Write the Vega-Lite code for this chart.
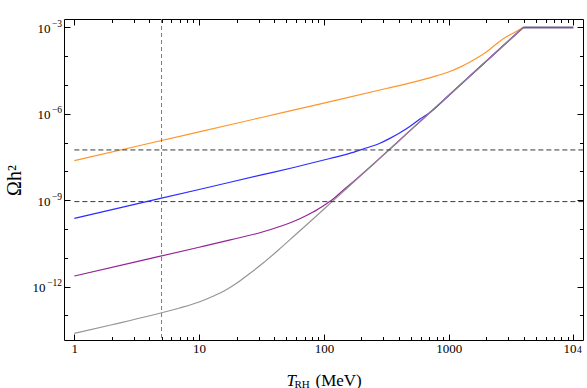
{
  "$schema": "https://vega.github.io/schema/vega-lite/v6.json",
  "autosize": "none",
  "width": 519,
  "height": 321,
  "padding": {"left": 64, "top": 19, "right": 4, "bottom": 48},
  "background": "white",
  "config": {
    "view": {"stroke": "black", "strokeWidth": 1},
    "axis": {
      "domain": false, "grid": false, "tickColor": "black", "tickWidth": 1,
      "labelFont": "Liberation Serif", "labelFontSize": 13, "labelColor": "black",
      "titleFont": "Liberation Serif", "titleColor": "black", "titleFontWeight": "normal"
    }
  },
  "datasets": {
    "curves": [
      {"s": "orange", "x": 1, "y": 2.371e-8},
      {"s": "orange", "x": 3.162, "y": 7.499e-8},
      {"s": "orange", "x": 10, "y": 2.371e-7},
      {"s": "orange", "x": 31.62, "y": 7.499e-7},
      {"s": "orange", "x": 100, "y": 2.371e-6},
      {"s": "orange", "x": 316.2, "y": 7.586e-6},
      {"s": "orange", "x": 562.3, "y": 1.380e-5},
      {"s": "orange", "x": 794.3, "y": 2.089e-5},
      {"s": "orange", "x": 1023, "y": 2.951e-5},
      {"s": "orange", "x": 1259, "y": 4.365e-5},
      {"s": "orange", "x": 1483, "y": 6.310e-5},
      {"s": "orange", "x": 1778, "y": 1.0e-4},
      {"s": "orange", "x": 2018, "y": 1.445e-4},
      {"s": "orange", "x": 2371, "y": 2.512e-4},
      {"s": "orange", "x": 2742, "y": 4.074e-4},
      {"s": "orange", "x": 3311, "y": 6.457e-4},
      {"s": "orange", "x": 3963, "y": 1.0e-3},
      {"s": "blue", "x": 1, "y": 2.371e-10},
      {"s": "blue", "x": 3.162, "y": 7.499e-10},
      {"s": "blue", "x": 10, "y": 2.371e-9},
      {"s": "blue", "x": 31.62, "y": 7.586e-9},
      {"s": "blue", "x": 56.23, "y": 1.349e-8},
      {"s": "blue", "x": 111.7, "y": 2.818e-8},
      {"s": "blue", "x": 158.5, "y": 4.169e-8},
      {"s": "blue", "x": 206.5, "y": 6.026e-8},
      {"s": "blue", "x": 281.2, "y": 9.550e-8},
      {"s": "blue", "x": 338.1, "y": 1.413e-7},
      {"s": "blue", "x": 398.1, "y": 2.089e-7},
      {"s": "blue", "x": 488.7, "y": 3.631e-7},
      {"s": "blue", "x": 588.8, "y": 6.607e-7},
      {"s": "blue", "x": 707.9, "y": 1.122e-6},
      {"s": "blue", "x": 963.9, "y": 3.715e-6},
      {"s": "blue", "x": 1259, "y": 1.072e-5},
      {"s": "blue", "x": 1585, "y": 2.692e-5},
      {"s": "blue", "x": 1995, "y": 6.683e-5},
      {"s": "blue", "x": 2512, "y": 1.660e-4},
      {"s": "blue", "x": 3162, "y": 4.121e-4},
      {"s": "blue", "x": 3963, "y": 1.0e-3},
      {"s": "purple", "x": 1, "y": 2.344e-12},
      {"s": "purple", "x": 3.162, "y": 7.413e-12},
      {"s": "purple", "x": 10, "y": 2.344e-11},
      {"s": "purple", "x": 17.78, "y": 4.217e-11},
      {"s": "purple", "x": 31.62, "y": 7.762e-11},
      {"s": "purple", "x": 44.36, "y": 1.230e-10},
      {"s": "purple", "x": 64.12, "y": 2.291e-10},
      {"s": "purple", "x": 82.04, "y": 3.890e-10},
      {"s": "purple", "x": 100, "y": 6.607e-10},
      {"s": "purple", "x": 115.3, "y": 1.0e-9},
      {"s": "purple", "x": 141.3, "y": 2.138e-9},
      {"s": "purple", "x": 182.8, "y": 5.495e-9},
      {"s": "purple", "x": 251.2, "y": 1.862e-8},
      {"s": "purple", "x": 398.1, "y": 1.148e-7},
      {"s": "purple", "x": 631.0, "y": 7.079e-7},
      {"s": "purple", "x": 1000, "y": 4.365e-6},
      {"s": "purple", "x": 1585, "y": 2.692e-5},
      {"s": "purple", "x": 2512, "y": 1.660e-4},
      {"s": "purple", "x": 3963, "y": 1.0e-3},
      {"s": "gray", "x": 1, "y": 2.399e-14},
      {"s": "gray", "x": 2, "y": 4.786e-14},
      {"s": "gray", "x": 4.027, "y": 9.772e-14},
      {"s": "gray", "x": 7.0, "y": 1.820e-13},
      {"s": "gray", "x": 10, "y": 2.951e-13},
      {"s": "gray", "x": 12.94, "y": 4.677e-13},
      {"s": "gray", "x": 15.85, "y": 7.079e-13},
      {"s": "gray", "x": 19.95, "y": 1.318e-12},
      {"s": "gray", "x": 25.12, "y": 2.754e-12},
      {"s": "gray", "x": 32.58, "y": 6.607e-12},
      {"s": "gray", "x": 44.67, "y": 2.138e-11},
      {"s": "gray", "x": 60.39, "y": 6.918e-11},
      {"s": "gray", "x": 79.43, "y": 1.995e-10},
      {"s": "gray", "x": 115.3, "y": 8.610e-10},
      {"s": "gray", "x": 158.5, "y": 3.020e-9},
      {"s": "gray", "x": 251.2, "y": 1.862e-8},
      {"s": "gray", "x": 398.1, "y": 1.148e-7},
      {"s": "gray", "x": 631.0, "y": 7.079e-7},
      {"s": "gray", "x": 1000, "y": 4.365e-6},
      {"s": "gray", "x": 1585, "y": 2.692e-5},
      {"s": "gray", "x": 2512, "y": 1.660e-4},
      {"s": "gray", "x": 3963, "y": 1.0e-3}
    ],
    "plateau": [
      {"x": 3963, "y": 1.0e-3},
      {"x": 10000, "y": 1.0e-3}
    ],
    "hlines": [
      {"y": 5.6e-8, "x": 1, "x2": 12000},
      {"y": 9.0e-10, "x": 1, "x2": 12000}
    ],
    "vlines": [
      {"x": 5}
    ]
  },
  "resolve": {"axis": {"x": "independent", "y": "independent"}},
  "layer": [
    {
      "data": {"name": "curves"},
      "mark": {"type": "line", "strokeWidth": 1.2, "interpolate": "monotone", "clip": true, "opacity": 0.92},
      "encoding": {
        "x": {
          "field": "x", "type": "quantitative",
          "scale": {"type": "log", "domain": [0.826, 11940], "nice": false, "zero": false},
          "axis": {
            "orient": "bottom",
            "values": [1,2,3,4,5,6,7,8,9,10,20,30,40,50,60,70,80,90,100,200,300,400,500,600,700,800,900,1000,2000,3000,4000,5000,6000,7000,8000,9000,10000],
            "labelExpr": "datum.value==1?'1':datum.value==10?'10':datum.value==100?'100':datum.value==1000?'1000':datum.value==10000?'10':''",
            "tickSize": {"condition": {"test": "abs(log(datum.value)/LN10 - round(log(datum.value)/LN10)) < 0.001", "value": -6}, "value": -3.5},
            "labelOffset": {"condition": {"test": "datum.value==10000", "value": -4}, "value": 0},
            "labelPadding": 8,
            "labelFlush": false,
            "labelOverlap": false,
            "title": "T", "titleFontStyle": "italic", "titleFontSize": 17,
            "titleX": 222, "titleY": 45, "titleAlign": "left", "titleBaseline": "alphabetic", "titleAnchor": null
          }
        },
        "y": {
          "field": "y", "type": "quantitative",
          "scale": {"type": "log", "domain": [1.41e-14, 1.97e-3], "nice": false, "zero": false},
          "axis": {
            "orient": "left",
            "values": [1e-13,1e-12,1e-11,1e-10,1e-9,1e-8,1e-7,1e-6,1e-5,1e-4,1e-3],
            "labelExpr": "round(log(datum.value)/LN10) % 3 == 0 ? '10' : ''",
            "tickSize": {"condition": {"test": "round(log(datum.value)/LN10) % 3 == 0", "value": -6}, "value": -3.5},
            "labelPadding": {"condition": {"test": "round(log(datum.value)/LN10) == -12", "value": 25}, "value": 20},
            "labelOffset": 1,
            "labelFlush": false,
            "labelOverlap": false,
            "title": "Ωh²", "titleFontSize": 20, "titleAngle": 270,
            "titleX": -44, "titleY": 161, "titleAlign": "center", "titleBaseline": "alphabetic", "titleAnchor": null
          }
        },
        "color": {
          "field": "s", "type": "nominal", "legend": null,
          "scale": {"domain": ["orange", "blue", "purple", "gray"], "range": ["#ff8c1a", "#1a1aff", "#8a108a", "#8c8c8c"]}
        }
      }
    },
    {
      "data": {"name": "plateau"},
      "mark": {"type": "line", "strokeWidth": 2, "color": "#735a8a", "clip": true},
      "encoding": {
        "x": {"field": "x", "type": "quantitative", "axis": null},
        "y": {
          "field": "y", "type": "quantitative",
          "axis": {
            "orient": "left",
            "values": [1e-12, 1e-9, 1e-6, 1e-3],
            "ticks": false,
            "labelExpr": "round(log(datum.value)/LN10)==-3?'−3':round(log(datum.value)/LN10)==-6?'−6':round(log(datum.value)/LN10)==-9?'−9':'−12'",
            "labelFontSize": 9.5,
            "labelAlign": "right",
            "labelPadding": 2.5,
            "labelOffset": -4,
            "labelFlush": false,
            "labelOverlap": false,
            "title": null
          }
        }
      }
    },
    {
      "data": {"name": "hlines"},
      "mark": {"type": "rule", "strokeDash": [5, 3], "color": "#3a3a3a", "strokeWidth": 1, "clip": true},
      "encoding": {
        "x": {
          "field": "x", "type": "quantitative",
          "scale": {"type": "log", "domain": [0.826, 11940], "nice": false, "zero": false},
          "axis": {
            "orient": "top",
            "values": [1,2,3,4,5,6,7,8,9,10,20,30,40,50,60,70,80,90,100,200,300,400,500,600,700,800,900,1000,2000,3000,4000,5000,6000,7000,8000,9000,10000],
            "labelExpr": "datum.value==10000?'4':''",
            "labelFontSize": 9.5,
            "labelPadding": -324,
            "labelBaseline": "middle",
            "labelAlign": "left",
            "labelOffset": 3,
            "labelFlush": false,
            "labelOverlap": false,
            "tickSize": {"condition": {"test": "abs(log(datum.value)/LN10 - round(log(datum.value)/LN10)) < 0.001", "value": -6}, "value": -3.5},
            "title": "RH", "titleFontSize": 11,
            "titleX": 230, "titleY": 368, "titleAlign": "left", "titleBaseline": "alphabetic", "titleAnchor": null
          }
        },
        "x2": {"field": "x2"},
        "y": {
          "field": "y", "type": "quantitative",
          "scale": {"type": "log", "domain": [1.41e-14, 1.97e-3], "nice": false, "zero": false},
          "axis": {
            "orient": "right",
            "values": [1e-13,1e-12,1e-11,1e-10,1e-9,1e-8,1e-7,1e-6,1e-5,1e-4,1e-3],
            "labels": false,
            "tickSize": {"condition": {"test": "round(log(datum.value)/LN10) % 3 == 0", "value": -6}, "value": -3.5},
            "title": "(MeV)", "titleFontSize": 17, "titleAngle": 0,
            "titleX": -268, "titleY": 366, "titleAlign": "left", "titleBaseline": "alphabetic", "titleAnchor": null
          }
        }
      }
    },
    {
      "data": {"name": "vlines"},
      "mark": {"type": "rule", "strokeDash": [4, 3], "color": "#7a7a7a", "strokeWidth": 1},
      "encoding": {
        "x": {"field": "x", "type": "quantitative", "axis": null}
      }
    }
  ]
}
